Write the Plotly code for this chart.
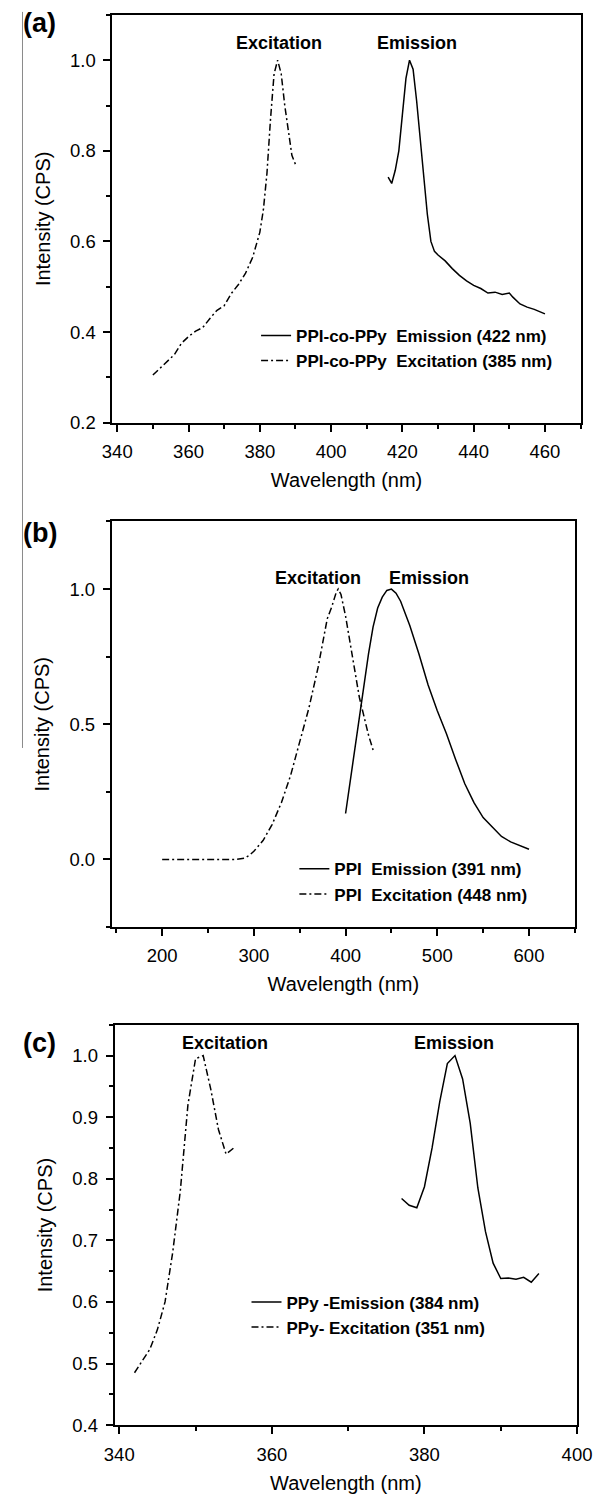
import plotly.graph_objects as go

W, H = 609, 1495
FONT = "Liberation Sans, Arial, sans-serif"

# ---------------- Panel (a): PPI-co-PPy ----------------
a_exc_x = [350, 352, 354, 356, 358, 360, 362, 364, 366, 368, 370, 372, 374, 376, 378, 379,
           380, 381, 382, 383, 384, 385, 386, 387, 388, 389, 390]
a_exc_y = [0.305, 0.32, 0.335, 0.35, 0.375, 0.39, 0.402, 0.41, 0.43, 0.448, 0.458, 0.485, 0.505,
           0.53, 0.565, 0.59, 0.62, 0.67, 0.75, 0.87, 0.97, 1.0, 0.97, 0.9, 0.84, 0.79, 0.77]
a_em_x = [416, 417, 418, 419, 420, 421, 422, 423, 424, 425, 426, 427, 428, 429, 430, 432, 434,
          436, 438, 440, 442, 444, 446, 448, 450, 451, 453, 455, 457, 460]
a_em_y = [0.742, 0.728, 0.757, 0.80, 0.88, 0.96, 1.0, 0.98, 0.91, 0.83, 0.74, 0.66, 0.60, 0.578,
          0.570, 0.557, 0.54, 0.525, 0.513, 0.503, 0.496, 0.486, 0.488, 0.483, 0.486, 0.477,
          0.462, 0.455, 0.45, 0.44]

# ---------------- Panel (b): PPI ----------------
b_exc_x = [200, 220, 240, 260, 280, 290, 295, 300, 310, 320, 330, 340, 350, 360, 370, 375, 380,
           385, 390, 392, 395, 400, 405, 410, 415, 420, 425, 430]
b_exc_y = [0, 0, 0, 0, 0, 0.005, 0.015, 0.03, 0.07, 0.13, 0.21, 0.31, 0.43, 0.56, 0.71, 0.80,
           0.89, 0.935, 0.99, 1.0, 0.98, 0.90, 0.80, 0.69, 0.60, 0.53, 0.46, 0.405]
b_em_x = [400, 405, 410, 415, 420, 425, 430, 435, 440, 445, 450, 455, 460, 470, 480, 490, 500,
          510, 520, 530, 540, 550, 560, 570, 580, 590, 600]
b_em_y = [0.17, 0.29, 0.40, 0.52, 0.65, 0.76, 0.86, 0.93, 0.97, 0.995, 1.0, 0.985, 0.955, 0.865,
          0.76, 0.645, 0.55, 0.465, 0.37, 0.28, 0.21, 0.155, 0.12, 0.085, 0.065, 0.05, 0.038]

# ---------------- Panel (c): PPy ----------------
c_exc_x = [342, 343, 344, 345, 346, 347, 348, 349, 350, 351, 352, 353, 354, 355]
c_exc_y = [0.485, 0.505, 0.523, 0.555, 0.60, 0.68, 0.78, 0.92, 0.995, 1.0, 0.945, 0.88, 0.84, 0.85]
c_em_x = [377, 378, 379, 380, 381, 382, 383, 384, 385, 386, 387, 388, 389, 390, 391, 392, 393,
          394, 395]
c_em_y = [0.768, 0.757, 0.753, 0.787, 0.85, 0.925, 0.987, 1.0, 0.962, 0.89, 0.785, 0.714, 0.663,
          0.638, 0.639, 0.637, 0.64, 0.632, 0.646]

panel_labels = ["(a)", "(b)", "(c)"]
legend_names = [
    ["PPI-co-PPy\u00a0 Emission (422 nm)", "PPI-co-PPy\u00a0 Excitation (385 nm)"],
    ["PPI\u00a0 Emission (391 nm)", "PPI\u00a0 Excitation (448 nm)"],
    ["PPy -Emission (384 nm)", "PPy- Excitation (351 nm)"],
]
x_title = "Wavelength (nm)"
y_title = "Intensity (CPS)"

# pixel geometry of each plot area: (left, right, top, bottom)
boxes = [(106, 595, 15, 425.7), (105.3, 589, 525, 933.3), (108.3, 591.3, 1031.7, 1435)]
xranges = [[338.66, 470], [145.1, 650], [339.4, 400]]
yranges = [[0.1995, 1.1], [-0.25, 1.25], [0.3995, 1.05]]
xdt = [(20, 10), (100, 50), (20, 10)]
ydt = [(0.2, 0.1), (0.5, 0.25), (0.1, 0.05)]
peak_label_pos = [
    [(385.3, 1.037), (424, 1.037)],
    [(370.2, 1.042), (490.5, 1.042)],
    [(353.9, 1.0205), (383.9, 1.0205)],
]
legend_pos = [(256, 320), (296, 857), (246, 1293)]
label_y = [23, 537, 1050]

EXC_DASH = "7px,3px,2px,3px"

fig = go.Figure()
series = [
    (a_em_x, a_em_y, a_exc_x, a_exc_y),
    (b_em_x, b_em_y, b_exc_x, b_exc_y),
    (c_em_x, c_em_y, c_exc_x, c_exc_y),
]
annotations = []
for i, (emx, emy, exx, exy) in enumerate(series):
    k = "" if i == 0 else str(i + 1)
    leg = "legend" + k
    fig.add_trace(go.Scatter(x=emx, y=emy, mode="lines", name=legend_names[i][0],
                             line=dict(color="black", width=1.5),
                             xaxis="x" + k, yaxis="y" + k, legend=leg))
    fig.add_trace(go.Scatter(x=exx, y=exy, mode="lines", name=legend_names[i][1],
                             line=dict(color="black", width=1.5, dash=EXC_DASH),
                             xaxis="x" + k, yaxis="y" + k, legend=leg))
    l, r, t, b = boxes[i]
    common = dict(showline=True, linecolor="black", linewidth=2, mirror=True,
                  ticks="outside", ticklen=7, tickwidth=1.5, tickcolor="black",
                  showgrid=False, zeroline=False, ticklabelstandoff=4,
                  tickfont=dict(family=FONT, size=18.5, color="black"))
    xa = dict(common, domain=[l / W, r / W], range=xranges[i], anchor="y" + k,
              tick0=0, dtick=xdt[i][0],
              minor=dict(dtick=xdt[i][1], tick0=0, ticks="outside", ticklen=4,
                         tickwidth=1.5, tickcolor="black"),
              title=dict(text=x_title, font=dict(family=FONT, size=20, color="black"),
                         standoff=12))
    ya = dict(common, domain=[1 - b / H, 1 - t / H], range=yranges[i], anchor="x" + k,
              tick0=0, dtick=ydt[i][0], tickformat=".1f",
              minor=dict(dtick=ydt[i][1], tick0=0, ticks="outside", ticklen=4,
                         tickwidth=1.5, tickcolor="black"),
              title=dict(text=y_title, font=dict(family=FONT, size=20, color="black"),
                         standoff=14))
    fig.layout["xaxis" + k] = xa
    fig.layout["yaxis" + k] = ya
    lx, ly = legend_pos[i]
    fig.layout[leg] = dict(x=lx / W, y=1 - ly / H, xanchor="left", yanchor="top",
                           bgcolor="rgba(0,0,0,0)", borderwidth=0, traceorder="normal",
                           font=dict(family=FONT, size=17, color="black", weight="bold"))
    for txt, (px, py) in zip(["Excitation", "Emission"], peak_label_pos[i]):
        annotations.append(dict(text="<b>" + txt + "</b>", x=px, y=py, xref="x" + k,
                                yref="y" + k, showarrow=False,
                                font=dict(family=FONT, size=18, color="black")))
    annotations.append(dict(text="<b>" + panel_labels[i] + "</b>", x=10 / W,
                            y=1 - label_y[i] / H, xref="paper", yref="paper",
                            xanchor="left", yanchor="middle", showarrow=False,
                            font=dict(family=FONT, size=27, color="black")))

fig.update_layout(
    width=W, height=H, margin=dict(l=0, r=0, t=0, b=0),
    paper_bgcolor="white", plot_bgcolor="white",
    annotations=annotations,
    shapes=[dict(type="line", xref="paper", yref="paper", x0=12 / W, x1=12 / W,
                 y0=1 - 12 / H, y1=1 - 753 / H, line=dict(color="#8a8a8a", width=1))],
)
fig.write_html("out.html")
